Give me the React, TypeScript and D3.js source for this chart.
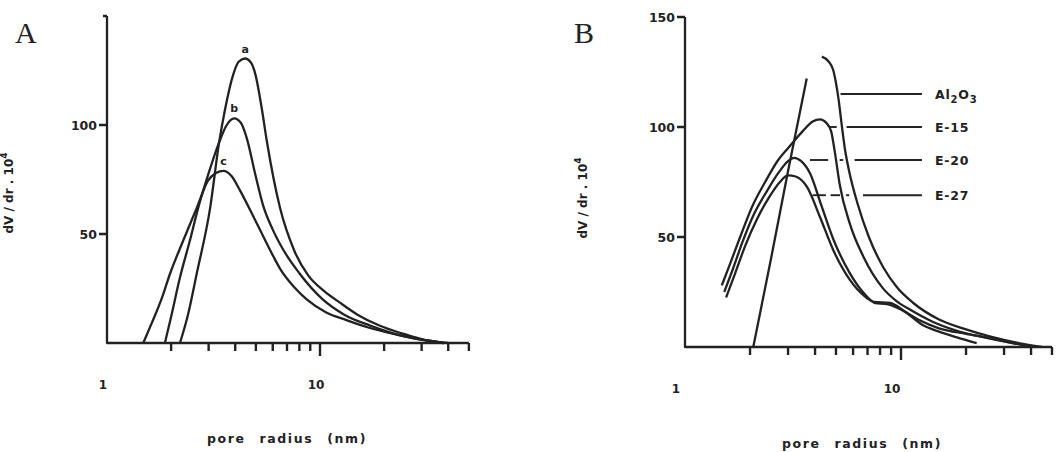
import React, { useEffect, useRef } from "react";
import * as d3 from "d3";

type Pt = [number, number];

// x axis (pore radius, nm) - log scale ticks
const ticksX = [2, 3, 4, 5, 6, 7, 8, 9, 10, 20, 30, 40, 50];
const labelsX = [1, 10];
const ticksY = [50, 100, 150];

// panel A curves (r in nm, dV/dr.10^4)
const curveA: Pt[] = [[2.2, 0], [2.4, 13], [2.64, 32], [3.05, 62], [3.36, 92], [3.58, 107], [3.91, 123], [4.15, 129], [4.45, 130.5], [4.75, 128.5], [4.98, 123], [5.32, 108], [5.62, 93], [6.49, 62], [7.6, 42], [8.8, 31], [10.4, 24], [12.4, 18.5], [15, 13], [19, 8], [24, 4.5], [30, 1.8], [38, 0]];
const curveB: Pt[] = [[1.87, 0], [2.0, 12], [2.2, 30], [2.45, 47], [2.68, 62], [2.98, 77], [3.36, 92], [3.65, 100], [3.95, 103], [4.25, 101], [4.53, 94], [4.95, 78], [5.41, 63], [6.0, 52], [6.7, 43], [8.0, 32], [10.3, 20], [13, 13], [17.2, 8], [25, 3], [38, 0]];
const curveC: Pt[] = [[1.48, 0], [1.62, 9], [1.8, 20], [1.98, 32], [2.28, 47], [2.64, 62], [2.98, 74.5], [3.25, 78], [3.52, 79], [3.85, 76.5], [4.21, 70], [5.04, 55], [6.02, 40], [6.5, 34], [7.5, 26], [8.66, 20], [10.7, 14], [13.3, 10.5], [17, 7], [21.3, 4.6], [30, 1.5], [40, 0]];
const namesA = ["a", "b", "c"];

// panel B curves
const al2o3Rise: Pt[] = [[2.07, 0], [2.5, 40], [3.0, 80], [3.66, 122]];
const al2o3Fall: Pt[] = [[4.3, 132], [4.6, 130], [4.85, 126], [5.0, 120], [5.15, 112], [5.3, 102], [5.5, 90], [5.75, 80], [6.3, 65], [7.1, 50], [8.3, 36], [9.6, 27], [11.4, 20], [15, 12.5], [20, 8], [26, 4.7], [35, 1.8], [45, 0]];
const e15: Pt[] = [[1.48, 28], [1.62, 38], [1.8, 50], [2.05, 64], [2.35, 75], [2.7, 85], [3.1, 92], [3.5, 98], [3.9, 102.5], [4.22, 103.5], [4.5, 102], [4.75, 98], [4.95, 88], [5.2, 74], [5.8, 56], [6.7, 41], [8.2, 27], [9.5, 21], [11, 17], [14, 11.5], [18, 7.5], [24, 4.5], [32, 2], [42, 0]];
const e20: Pt[] = [[1.52, 25], [1.66, 35], [1.85, 48], [2.1, 61], [2.4, 71], [2.7, 79], [3.0, 84.5], [3.2, 86], [3.45, 84.5], [3.79, 79], [4.29, 64], [4.86, 49], [5.8, 33.5], [6.8, 24], [7.6, 20], [8.6, 19.5], [10, 17], [12, 12.5], [15, 8.5], [20, 6], [26, 4], [33, 1.8], [42, 0]];
const e27: Pt[] = [[1.55, 22.5], [1.7, 33], [1.9, 46], [2.15, 58], [2.45, 68], [2.75, 75], [3.0, 78], [3.25, 77.5], [3.66, 73], [4.22, 59], [4.86, 44], [5.8, 30.5], [6.8, 23], [7.5, 20.5], [8.9, 20], [10.3, 16.5], [12.6, 10], [15, 7], [18, 4.5], [22.4, 1.8]];

// legend leaders for panel B
const legendNames = ["Al2O3", "E-15", "E-20", "E-27"];
const legendLevels = [115, 100, 85, 69];
const legendSegments: [number, number][][] = [
	[[5.25, 12.5]],
	[[4.69, 5.04], [5.6, 12.5]],
	[[3.79, 4.6], [5.2, 5.4], [6.1, 12.5]],
	[[3.9, 4.49], [4.72, 5.22], [5.57, 5.76], [6.67, 12.5]],
];

export default function App() {
	const svgRef = useRef<SVGSVGElement>(null);

	useEffect(() => {
		if (!svgRef.current) return;
		const svg = d3.select(svgRef.current);
		svg.selectAll("*").remove();

		const ink = "#222";
		const font = "'DejaVu Sans', sans-serif";

		const panels = [
			{ letter: "A", x0: 107, decade: 213, base: 343, unit: 2.18, labelDx: -4, letterX: 15, titleX: 287, titleY: 443, yTitleX: 13, yTitleY: 193, yLabels: [50, 100] },
			{ letter: "B", x0: 685, decade: 216, base: 347, unit: 2.2, labelDx: -9, letterX: 574, titleX: 862, titleY: 448, yTitleX: 587, yTitleY: 198, yLabels: [50, 100, 150] },
		];

		const scales = panels.map((p) => {
			const x = d3.scaleLog().domain([1, 50]).range([p.x0, p.x0 + p.decade * Math.log10(50)]);
			const y = d3.scaleLinear().domain([0, 150]).range([p.base, p.base - 150 * p.unit]);
			return { x, y };
		});

		panels.forEach((p, i) => {
			const { x, y } = scales[i];
			const g = svg.append("g");

			// panel letter
			g.append("text")
				.attr("x", p.letterX)
				.attr("y", 43)
				.attr("font-family", "'Liberation Serif', serif")
				.attr("font-size", 30)
				.attr("fill", ink)
				.text(p.letter);

			// axis lines
			g.append("path")
				.attr("d", `M${x(1)},${y(150)}V${y(0)}H${x(50)}`)
				.attr("fill", "none")
				.attr("stroke", ink)
				.attr("stroke-width", 2.3)
				.attr("stroke-linejoin", "round");

			// tick marks: down on x, left on y
			const xTickPath = ticksX.map((d) => `M${x(d)},${y(0)}v${d === 10 ? 13 : 8}`).join("");
			const yTickPath = ticksY.map((d) => `M${x(1)},${y(d)}h${i === 0 && d === 150 ? -4 : -8}`).join("");
			g.append("path")
				.attr("d", xTickPath + yTickPath)
				.attr("fill", "none")
				.attr("stroke", ink)
				.attr("stroke-width", 2.4);

			labelsX.forEach((d) => {
				g.append("text")
					.attr("x", x(d) + p.labelDx)
					.attr("y", p.base + 46)
					.attr("text-anchor", "middle")
					.attr("font-family", font)
					.attr("font-weight", "bold")
					.attr("font-size", 12)
					.attr("fill", ink)
					.text(d);
			});

			p.yLabels.forEach((d) => {
				g.append("text")
					.attr("x", p.x0 - 10)
					.attr("y", y(d) + 4.5)
					.attr("text-anchor", "end")
					.attr("font-family", font)
					.attr("font-weight", "bold")
					.attr("font-size", 12.5)
					.attr("fill", ink)
					.text(d);
			});

			g.append("text")
				.attr("x", p.titleX)
				.attr("y", p.titleY)
				.attr("text-anchor", "middle")
				.attr("font-family", font)
				.attr("font-weight", "bold")
				.attr("font-size", 12.5)
				.attr("letter-spacing", 1.6)
				.attr("word-spacing", 8)
				.attr("fill", ink)
				.text(i === 0 ? "pore radius (nm)" : "pore radius  (nm)");

			const yt = g
				.append("text")
				.attr("transform", `translate(${p.yTitleX},${p.yTitleY}) rotate(-90)`)
				.attr("text-anchor", "middle")
				.attr("font-family", font)
				.attr("font-weight", "bold")
				.attr("font-size", 12)
				.attr("fill", ink);
			yt.append("tspan").text("dV / dr . 10");
			yt.append("tspan").attr("dy", -6).attr("font-size", 9).text("4");
		});

		const draw = (i: number, data: Pt[]) => {
			const { x, y } = scales[i];
			const line = d3
				.line<Pt>()
				.x((d) => x(d[0]))
				.y((d) => y(d[1]))
				.curve(d3.curveMonotoneX);
			svg.append("path")
				.datum(data)
				.attr("fill", "none")
				.attr("stroke", ink)
				.attr("stroke-width", 2.3)
				.attr("stroke-linejoin", "round")
				.attr("d", line);
		};

		// panel A
		[curveA, curveB, curveC].forEach((c) => draw(0, c));
		[curveA, curveB, curveC].forEach((c, j) => {
			const pk = c.reduce((m, d) => (d[1] > m[1] ? d : m));
			svg.append("text")
				.attr("x", scales[0].x(pk[0]))
				.attr("y", scales[0].y(pk[1]) - 6)
				.attr("text-anchor", "middle")
				.attr("font-family", font)
				.attr("font-weight", "bold")
				.attr("font-size", 11)
				.attr("fill", ink)
				.text(namesA[j]);
		});

		// panel B
		[al2o3Rise, al2o3Fall, e15, e20, e27].forEach((c) => draw(1, c));
		const { x: xb, y: yb } = scales[1];
		legendNames.forEach((name, j) => {
			legendSegments[j].forEach(([r0, r1]) => {
				svg.append("line")
					.attr("x1", xb(r0))
					.attr("x2", xb(r1))
					.attr("y1", yb(legendLevels[j]))
					.attr("y2", yb(legendLevels[j]))
					.attr("stroke", ink)
					.attr("stroke-width", 1.9);
			});
			const t = svg
				.append("text")
				.attr("x", xb(12.5) + 13)
				.attr("y", yb(legendLevels[j]) + 5)
				.attr("font-family", font)
				.attr("font-weight", "bold")
				.attr("font-size", 12.5)
				.attr("letter-spacing", 0.8)
				.attr("fill", ink);
			if (name === "Al2O3") {
				t.append("tspan").text("Al");
				t.append("tspan").attr("dy", 4).attr("font-size", 10).text("2");
				t.append("tspan").attr("dy", -4).text("O");
				t.append("tspan").attr("dy", 4).attr("font-size", 10).text("3");
			} else {
				t.text(name);
			}
		});
	}, []);

	return (
		<svg
			ref={svgRef}
			width={1061}
			height={452}
			style={{ position: "absolute", left: 0, top: 0, background: "#fff" }}
		/>
	);
}
